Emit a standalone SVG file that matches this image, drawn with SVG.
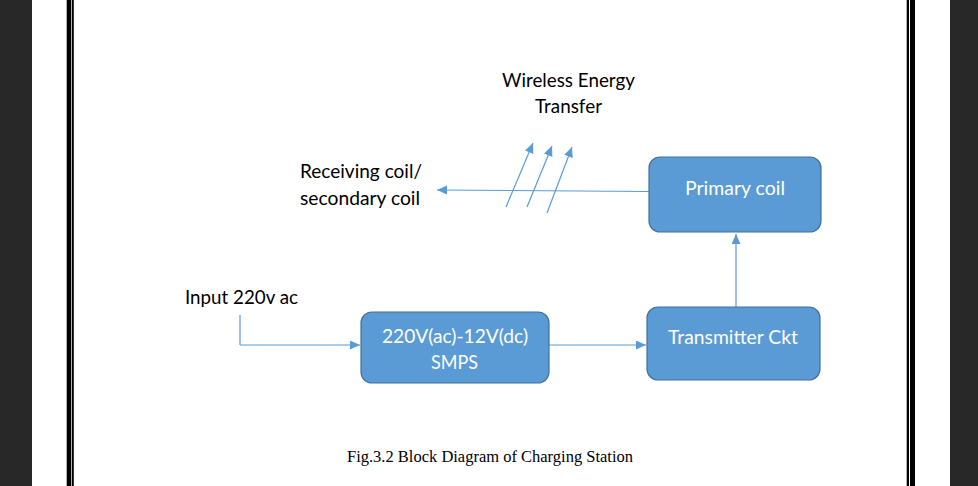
<svg xmlns="http://www.w3.org/2000/svg" width="978" height="486" viewBox="0 0 978 486">
<style>
.bg{fill:#282828}
.bar{fill:#000}
.box{fill:#5B9BD5;stroke:#41719C;stroke-width:1.2}
.wt{font-family:Lato,"Open Sans","Liberation Sans",sans-serif;font-size:18.5px;fill:#fff}
.bt{font-family:Lato,"Open Sans","Liberation Sans",sans-serif;font-size:18.5px;fill:#000}
.cap{font-family:"Liberation Serif",serif;font-size:16.5px;fill:#000}
.ln{stroke:#5B9BD5;stroke-width:1.2;fill:none;marker-end:url(#ah)}
.ln0{stroke:#5B9BD5;stroke-width:1.2;fill:none}
</style>
<defs>
<marker id="ah" markerUnits="userSpaceOnUse" markerWidth="12" markerHeight="10" refX="10" refY="4.5" orient="auto">
<path d="M0,0 L10,4.5 L0,9 Z" fill="#5B9BD5"/>
</marker>
</defs>
<rect x="0" y="0" width="978" height="486" fill="#fff"/>
<rect class="bg" x="0" y="0" width="32" height="486"/>
<rect class="bg" x="950" y="0" width="28" height="486"/>
<rect class="bar" x="66.7" y="0" width="4.6" height="486"/>
<rect class="bar" x="72" y="0" width="1.8" height="486"/>
<rect class="bar" x="906.7" y="0" width="2.3" height="486"/>
<rect class="bar" x="910" y="0" width="5" height="486"/>

<g id="connectors">
<path class="ln0" d="M240,315 L240,345"/>
<path class="ln" d="M240,345 L360,345"/>
<path class="ln" d="M549,345 L646,345"/>
<path class="ln" d="M736,307 L736,234"/>
<path class="ln" d="M649,191.5 L437,190"/>
<path class="ln" d="M506,207 L533,143"/>
<path class="ln" d="M527,207 L552,146"/>
<path class="ln" d="M547,213 L572,147"/>
</g>

<g id="smps">
<rect class="box" x="361" y="312" width="188" height="71" rx="11"/>
<text class="wt" x="382" y="343" textLength="146" lengthAdjust="spacingAndGlyphs">220V(ac)-12V(dc)</text>
<text class="wt" x="431" y="369" textLength="47" lengthAdjust="spacingAndGlyphs">SMPS</text>
</g>
<g id="transmitter">
<rect class="box" x="647" y="307" width="173" height="73" rx="11"/>
<text class="wt" x="668" y="344" textLength="130" lengthAdjust="spacingAndGlyphs">Transmitter Ckt</text>
</g>
<g id="primary">
<rect class="box" x="649" y="157" width="172" height="75" rx="11"/>
<text class="wt" x="685" y="195" textLength="100" lengthAdjust="spacingAndGlyphs">Primary coil</text>
</g>
<g id="wireless">
<text class="bt" x="502" y="87" textLength="133" lengthAdjust="spacingAndGlyphs">Wireless Energy</text>
<text class="bt" x="535" y="113" textLength="67" lengthAdjust="spacingAndGlyphs">Transfer</text>
</g>
<g id="receiving">
<text class="bt" x="300" y="178" textLength="122" lengthAdjust="spacingAndGlyphs">Receiving coil/</text>
<text class="bt" x="300" y="205" textLength="120" lengthAdjust="spacingAndGlyphs">secondary coil</text>
</g>
<g id="input">
<text class="bt" x="185" y="304" textLength="113" lengthAdjust="spacingAndGlyphs">Input 220v ac</text>
</g>
<text class="cap" x="347" y="462" textLength="286" lengthAdjust="spacingAndGlyphs">Fig.3.2 Block Diagram of Charging Station</text>
</svg>
